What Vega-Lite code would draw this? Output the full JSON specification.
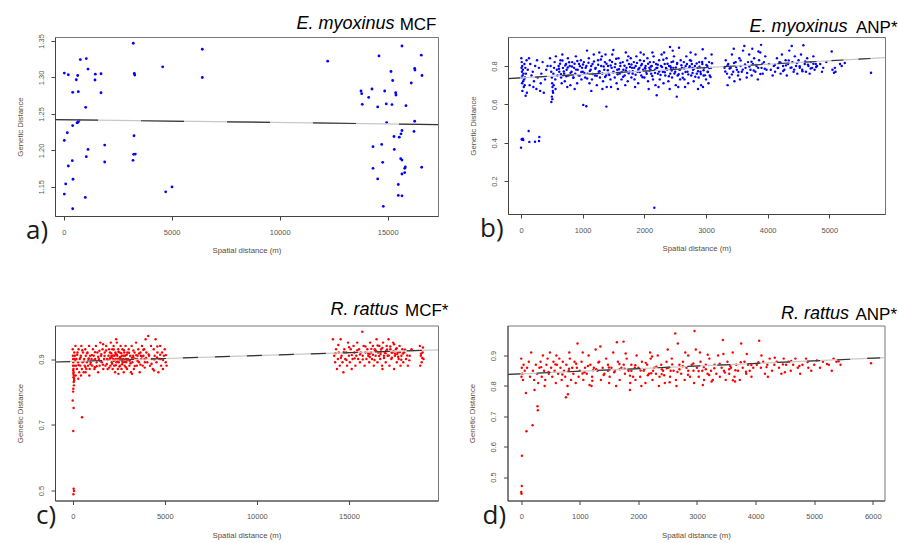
{
"$schema": "https://vega.github.io/schema/vega-lite/v6.json",
"background": "white",
"padding": {"left": 15, "top": 14, "right": 0, "bottom": 0},
"config": {
 "view": {"stroke": "#777", "strokeWidth": 1},
 "axis": {"labelFont": "Liberation Sans", "labelFontSize": 7.5, "labelColor": "#555", "titleFont": "Liberation Sans", "titleFontSize": 7.8, "titleFontWeight": "normal", "titleColor": "#5b4c40", "tickColor": "#444", "tickSize": 4, "domainColor": "#444", "grid": false, "labelFlush": false, "labelOverlap": false, "labelBound": false},
 "axisX": {"labelPadding": 8, "titlePadding": 11},
 "axisY": {"labelAngle": 270, "labelPadding": 6, "titlePadding": 13},
 "title": {"font": "Liberation Sans", "fontSize": 17, "fontWeight": "normal", "color": "#000", "baseline": "top", "anchor": "end", "frame": "bounds"}
},
"datasets": {
 "a": [{"x":3222,"y":1.3468},{"x":6417,"y":1.3386},{"x":769,"y":1.3245},{"x":1046,"y":1.3258},{"x":4583,"y":1.3145},{"x":1125,"y":1.3114},{"x":28,"y":1.3059},{"x":213,"y":1.3036},{"x":648,"y":1.3026},{"x":1463,"y":1.3045},{"x":1727,"y":1.305},{"x":3269,"y":1.3054},{"x":3290,"y":1.3032},{"x":583,"y":1.2968},{"x":1449,"y":1.2964},{"x":6417,"y":1.2999},{"x":417,"y":1.2795},{"x":676,"y":1.2804},{"x":1727,"y":1.279},{"x":1019,"y":1.259},{"x":708,"y":1.2409},{"x":662,"y":1.2385},{"x":616,"y":1.2377},{"x":417,"y":1.234},{"x":167,"y":1.2241},{"x":3255,"y":1.22},{"x":28,"y":1.2136},{"x":1898,"y":1.2072},{"x":1125,"y":1.2013},{"x":3241,"y":1.1945},{"x":3315,"y":1.1949},{"x":1046,"y":1.1914},{"x":398,"y":1.1859},{"x":3208,"y":1.1863},{"x":1898,"y":1.184},{"x":213,"y":1.1785},{"x":431,"y":1.1604},{"x":93,"y":1.154},{"x":5014,"y":1.1499},{"x":4722,"y":1.1431},{"x":28,"y":1.14},{"x":1000,"y":1.1355},{"x":417,"y":1.1199},{"x":15662,"y":1.3431},{"x":16556,"y":1.3305},{"x":14597,"y":1.3295},{"x":12222,"y":1.3223},{"x":16250,"y":1.3122},{"x":16264,"y":1.31},{"x":15153,"y":1.3081},{"x":16588,"y":1.3026},{"x":15232,"y":1.2958},{"x":16093,"y":1.2923},{"x":14273,"y":1.2841},{"x":14861,"y":1.2814},{"x":13764,"y":1.2814},{"x":13796,"y":1.2777},{"x":15370,"y":1.279},{"x":15384,"y":1.2759},{"x":14120,"y":1.2726},{"x":13824,"y":1.2631},{"x":14935,"y":1.2636},{"x":15199,"y":1.2627},{"x":15847,"y":1.2613},{"x":14537,"y":1.2595},{"x":14954,"y":1.2381},{"x":16250,"y":1.2399},{"x":15662,"y":1.2272},{"x":16218,"y":1.2259},{"x":15616,"y":1.2227},{"x":15292,"y":1.219},{"x":15537,"y":1.2181},{"x":14320,"y":1.205},{"x":14722,"y":1.2081},{"x":15306,"y":1.2013},{"x":15602,"y":1.1886},{"x":15662,"y":1.1867},{"x":14769,"y":1.1836},{"x":14320,"y":1.1754},{"x":15816,"y":1.1772},{"x":15788,"y":1.1754},{"x":16574,"y":1.1768},{"x":15788,"y":1.1695},{"x":15662,"y":1.1676},{"x":14537,"y":1.1608},{"x":15492,"y":1.1532},{"x":15492,"y":1.1382},{"x":15662,"y":1.1376},{"x":14797,"y":1.1232}],
 "b": [{"x":5,"y":0.84},{"x":12,"y":0.82},{"x":20,"y":0.8},{"x":8,"y":0.79},{"x":30,"y":0.78},{"x":15,"y":0.77},{"x":40,"y":0.76},{"x":25,"y":0.75},{"x":10,"y":0.74},{"x":50,"y":0.73},{"x":35,"y":0.72},{"x":18,"y":0.71},{"x":60,"y":0.7},{"x":45,"y":0.69},{"x":22,"y":0.67},{"x":55,"y":0.81},{"x":70,"y":0.79},{"x":80,"y":0.76},{"x":90,"y":0.83},{"x":65,"y":0.74},{"x":95,"y":0.66},{"x":75,"y":0.645},
  {"x":0,"y":0.374},{"x":11,"y":0.418},{"x":20,"y":0.415},{"x":37,"y":0.414},{"x":28,"y":0.42},{"x":124,"y":0.461},{"x":135,"y":0.404},{"x":227,"y":0.405},{"x":292,"y":0.409},{"x":297,"y":0.43},
  {"x":110,"y":0.78},{"x":130,"y":0.84},{"x":150,"y":0.81},{"x":170,"y":0.75},{"x":190,"y":0.77},{"x":210,"y":0.72},{"x":230,"y":0.8},{"x":250,"y":0.68},{"x":270,"y":0.74},{"x":290,"y":0.79},{"x":310,"y":0.67},{"x":330,"y":0.76},{"x":350,"y":0.82},{"x":370,"y":0.66},{"x":390,"y":0.73},{"x":410,"y":0.78},{"x":430,"y":0.8},{"x":140,"y":0.7},{"x":260,"y":0.83},{"x":200,"y":0.69},{"x":320,"y":0.71},
  {"x":470,"y":0.84},{"x":480,"y":0.8},{"x":490,"y":0.77},{"x":500,"y":0.74},{"x":505,"y":0.71},{"x":510,"y":0.69},{"x":515,"y":0.67},{"x":520,"y":0.66},{"x":500,"y":0.64},{"x":508,"y":0.627},{"x":492,"y":0.612},{"x":525,"y":0.76},{"x":535,"y":0.79},{"x":545,"y":0.82},{"x":555,"y":0.73},{"x":565,"y":0.85},{"x":580,"y":0.78},{"x":590,"y":0.75},{"x":530,"y":0.7},{"x":560,"y":0.68},
  {"x":610,"y":0.8},{"x":620,"y":0.77},{"x":640,"y":0.83},{"x":650,"y":0.74},{"x":670,"y":0.86},{"x":680,"y":0.79},{"x":700,"y":0.76},{"x":710,"y":0.72},{"x":730,"y":0.81},{"x":740,"y":0.78},{"x":760,"y":0.84},{"x":770,"y":0.75},{"x":790,"y":0.8},{"x":800,"y":0.7},{"x":820,"y":0.77},{"x":830,"y":0.82},{"x":850,"y":0.74},{"x":860,"y":0.79},{"x":880,"y":0.76},{"x":890,"y":0.85},{"x":910,"y":0.71},{"x":920,"y":0.78},{"x":940,"y":0.81},{"x":950,"y":0.75},{"x":970,"y":0.83},{"x":980,"y":0.73},{"x":990,"y":0.79},{"x":660,"y":0.71},{"x":750,"y":0.69},{"x":870,"y":0.68},
  {"x":1010,"y":0.597},{"x":1059,"y":0.59},{"x":1384,"y":0.588},{"x":1000,"y":0.77},{"x":1020,"y":0.82},{"x":1040,"y":0.74},{"x":1060,"y":0.8},{"x":1080,"y":0.76},{"x":1100,"y":0.84},{"x":1110,"y":0.71},{"x":1130,"y":0.78},{"x":1150,"y":0.73},{"x":1160,"y":0.81},{"x":1180,"y":0.86},{"x":1200,"y":0.75},{"x":1210,"y":0.79},{"x":1230,"y":0.7},{"x":1250,"y":0.83},{"x":1260,"y":0.77},{"x":1280,"y":0.74},{"x":1300,"y":0.8},{"x":1310,"y":0.85},{"x":1330,"y":0.72},{"x":1350,"y":0.78},{"x":1360,"y":0.82},{"x":1380,"y":0.75},{"x":1390,"y":0.69},{"x":1070,"y":0.88},{"x":1140,"y":0.67},{"x":1270,"y":0.87},{"x":1320,"y":0.68},{"x":1370,"y":0.86},
  {"x":1410,"y":0.8},{"x":1420,"y":0.76},{"x":1440,"y":0.83},{"x":1450,"y":0.73},{"x":1470,"y":0.79},{"x":1480,"y":0.86},{"x":1497,"y":0.883},{"x":1500,"y":0.77},{"x":1520,"y":0.74},{"x":1530,"y":0.81},{"x":1550,"y":0.71},{"x":1560,"y":0.78},{"x":1580,"y":0.84},{"x":1600,"y":0.76},{"x":1610,"y":0.8},{"x":1630,"y":0.73},{"x":1650,"y":0.82},{"x":1660,"y":0.78},{"x":1680,"y":0.75},{"x":1700,"y":0.87},{"x":1710,"y":0.79},{"x":1730,"y":0.72},{"x":1750,"y":0.81},{"x":1760,"y":0.77},{"x":1780,"y":0.84},{"x":1790,"y":0.74},{"x":1460,"y":0.69},{"x":1570,"y":0.68},{"x":1690,"y":0.7},{"x":1740,"y":0.85},
  {"x":1800,"y":0.79},{"x":1810,"y":0.76},{"x":1830,"y":0.82},{"x":1840,"y":0.73},{"x":1860,"y":0.8},{"x":1870,"y":0.85},{"x":1890,"y":0.77},{"x":1900,"y":0.71},{"x":1920,"y":0.79},{"x":1930,"y":0.83},{"x":1950,"y":0.75},{"x":1960,"y":0.81},{"x":1980,"y":0.78},{"x":1990,"y":0.86},{"x":2000,"y":0.74},{"x":2020,"y":0.8},{"x":2030,"y":0.77},{"x":2050,"y":0.84},{"x":2060,"y":0.72},{"x":2080,"y":0.79},{"x":2090,"y":0.82},{"x":2110,"y":0.76},{"x":2120,"y":0.8},{"x":2140,"y":0.73},{"x":2150,"y":0.85},{"x":2170,"y":0.78},{"x":2180,"y":0.7},{"x":2190,"y":0.81},{"x":2162,"y":0.061},{"x":2200,"y":0.647},{"x":1850,"y":0.69},{"x":1940,"y":0.87},{"x":2070,"y":0.68},{"x":2130,"y":0.87},{"x":2010,"y":0.79},{"x":2100,"y":0.78},
  {"x":2210,"y":0.79},{"x":2220,"y":0.76},{"x":2240,"y":0.83},{"x":2250,"y":0.73},{"x":2270,"y":0.8},{"x":2280,"y":0.86},{"x":2300,"y":0.77},{"x":2310,"y":0.71},{"x":2330,"y":0.81},{"x":2340,"y":0.75},{"x":2360,"y":0.84},{"x":2370,"y":0.78},{"x":2390,"y":0.72},{"x":2400,"y":0.8},{"x":2416,"y":0.899},{"x":2420,"y":0.76},{"x":2440,"y":0.82},{"x":2450,"y":0.74},{"x":2470,"y":0.79},{"x":2480,"y":0.85},{"x":2500,"y":0.77},{"x":2510,"y":0.7},{"x":2525,"y":0.64},{"x":2530,"y":0.81},{"x":2540,"y":0.75},{"x":2562,"y":0.895},{"x":2570,"y":0.78},{"x":2580,"y":0.73},{"x":2590,"y":0.83},{"x":2230,"y":0.69},{"x":2320,"y":0.87},{"x":2410,"y":0.68},{"x":2460,"y":0.88},{"x":2550,"y":0.69},{"x":2350,"y":0.79},{"x":2430,"y":0.79},
  {"x":2610,"y":0.79},{"x":2620,"y":0.76},{"x":2640,"y":0.82},{"x":2650,"y":0.73},{"x":2670,"y":0.8},{"x":2680,"y":0.85},{"x":2700,"y":0.77},{"x":2710,"y":0.71},{"x":2730,"y":0.79},{"x":2740,"y":0.83},{"x":2760,"y":0.75},{"x":2770,"y":0.81},{"x":2790,"y":0.78},{"x":2800,"y":0.72},{"x":2820,"y":0.8},{"x":2830,"y":0.86},{"x":2850,"y":0.76},{"x":2860,"y":0.79},{"x":2880,"y":0.74},{"x":2890,"y":0.82},{"x":2910,"y":0.77},{"x":2920,"y":0.7},{"x":2940,"y":0.81},{"x":2946,"y":0.887},{"x":2960,"y":0.75},{"x":2970,"y":0.79},{"x":2990,"y":0.84},{"x":3000,"y":0.73},{"x":3020,"y":0.8},{"x":3030,"y":0.77},{"x":3050,"y":0.82},{"x":3060,"y":0.75},{"x":3080,"y":0.79},{"x":3090,"y":0.86},{"x":2660,"y":0.69},{"x":2750,"y":0.87},{"x":2870,"y":0.68},{"x":2950,"y":0.69},{"x":3040,"y":0.71},{"x":2780,"y":0.79},
  {"x":3300,"y":0.79},{"x":3320,"y":0.83},{"x":3340,"y":0.76},{"x":3360,"y":0.81},{"x":3380,"y":0.74},{"x":3400,"y":0.79},{"x":3420,"y":0.86},{"x":3440,"y":0.77},{"x":3460,"y":0.72},{"x":3480,"y":0.82},{"x":3500,"y":0.78},{"x":3520,"y":0.75},{"x":3540,"y":0.84},{"x":3560,"y":0.8},{"x":3580,"y":0.77},{"x":3600,"y":0.88},{"x":3621,"y":0.904},{"x":3640,"y":0.79},{"x":3660,"y":0.74},{"x":3680,"y":0.82},{"x":3700,"y":0.86},{"x":3720,"y":0.78},{"x":3740,"y":0.75},{"x":3760,"y":0.81},{"x":3780,"y":0.84},{"x":3800,"y":0.77},{"x":3820,"y":0.8},{"x":3840,"y":0.73},{"x":3860,"y":0.83},{"x":3880,"y":0.87},{"x":3892,"y":0.91},{"x":3900,"y":0.79},{"x":3920,"y":0.76},{"x":3940,"y":0.82},{"x":3960,"y":0.85},{"x":3980,"y":0.78},{"x":3350,"y":0.7},{"x":3450,"y":0.89},{"x":3550,"y":0.73},{"x":3750,"y":0.89},{"x":3850,"y":0.875},
  {"x":4100,"y":0.8},{"x":4120,"y":0.77},{"x":4150,"y":0.84},{"x":4170,"y":0.79},{"x":4190,"y":0.82},{"x":4210,"y":0.76},{"x":4230,"y":0.86},{"x":4250,"y":0.8},{"x":4270,"y":0.78},{"x":4290,"y":0.83},{"x":4310,"y":0.75},{"x":4330,"y":0.81},{"x":4350,"y":0.88},{"x":4370,"y":0.79},{"x":4390,"y":0.904},{"x":4400,"y":0.82},{"x":4420,"y":0.77},{"x":4440,"y":0.85},{"x":4460,"y":0.8},{"x":4480,"y":0.76},{"x":4500,"y":0.83},{"x":4520,"y":0.79},{"x":4540,"y":0.86},{"x":4560,"y":0.78},{"x":4578,"y":0.908},{"x":4600,"y":0.81},{"x":4620,"y":0.77},{"x":4640,"y":0.84},{"x":4660,"y":0.8},{"x":4680,"y":0.76},{"x":4700,"y":0.82},{"x":4720,"y":0.79},{"x":4740,"y":0.85},{"x":4760,"y":0.78},{"x":4780,"y":0.81},{"x":4800,"y":0.8},{"x":4020,"y":0.81},{"x":4050,"y":0.78},{"x":4080,"y":0.75},
  {"x":4850,"y":0.81},{"x":4900,"y":0.79},{"x":4950,"y":0.82},{"x":5038,"y":0.875},{"x":5050,"y":0.78},{"x":5075,"y":0.765},{"x":5100,"y":0.77},{"x":5173,"y":0.81},{"x":5200,"y":0.8},{"x":5250,"y":0.815},{"x":5675,"y":0.765},{"x":5090,"y":0.79},{"x":4880,"y":0.77},
  {"x":615,"y":0.785},{"x":633,"y":0.812},{"x":648,"y":0.757},{"x":672,"y":0.828},{"x":694,"y":0.771},{"x":717,"y":0.803},{"x":736,"y":0.746},{"x":758,"y":0.792},{"x":781,"y":0.819},{"x":803,"y":0.764},{"x":826,"y":0.797},{"x":847,"y":0.739},{"x":868,"y":0.812},{"x":892,"y":0.781},{"x":913,"y":0.826},{"x":935,"y":0.752},{"x":957,"y":0.799},{"x":978,"y":0.769},
  {"x":1005,"y":0.808},{"x":1027,"y":0.763},{"x":1049,"y":0.791},{"x":1072,"y":0.735},{"x":1094,"y":0.817},{"x":1116,"y":0.774},{"x":1138,"y":0.8},{"x":1161,"y":0.758},{"x":1183,"y":0.823},{"x":1205,"y":0.785},{"x":1228,"y":0.749},{"x":1251,"y":0.806},{"x":1273,"y":0.772},{"x":1296,"y":0.834},{"x":1318,"y":0.761},{"x":1341,"y":0.797},{"x":1363,"y":0.742},{"x":1386,"y":0.811},
  {"x":1408,"y":0.778},{"x":1431,"y":0.753},{"x":1453,"y":0.802},{"x":1476,"y":0.821},{"x":1498,"y":0.766},{"x":1521,"y":0.794},{"x":1543,"y":0.838},{"x":1566,"y":0.757},{"x":1588,"y":0.783},{"x":1611,"y":0.815},{"x":1633,"y":0.769},{"x":1656,"y":0.744},{"x":1678,"y":0.801},{"x":1701,"y":0.776},{"x":1723,"y":0.829},{"x":1746,"y":0.762},{"x":1768,"y":0.795},{"x":1791,"y":0.808},
  {"x":1813,"y":0.772},{"x":1836,"y":0.791},{"x":1858,"y":0.754},{"x":1881,"y":0.816},{"x":1903,"y":0.783},{"x":1926,"y":0.768},{"x":1948,"y":0.803},{"x":1971,"y":0.741},{"x":1993,"y":0.826},{"x":2016,"y":0.787},{"x":2038,"y":0.759},{"x":2061,"y":0.811},{"x":2083,"y":0.775},{"x":2106,"y":0.797},{"x":2128,"y":0.748},{"x":2151,"y":0.82},{"x":2173,"y":0.764},{"x":2196,"y":0.789},
  {"x":2218,"y":0.806},{"x":2241,"y":0.771},{"x":2263,"y":0.753},{"x":2286,"y":0.795},{"x":2308,"y":0.832},{"x":2331,"y":0.767},{"x":2353,"y":0.784},{"x":2376,"y":0.812},{"x":2398,"y":0.746},{"x":2421,"y":0.799},{"x":2443,"y":0.776},{"x":2466,"y":0.823},{"x":2488,"y":0.761},{"x":2511,"y":0.792},{"x":2533,"y":0.815},{"x":2556,"y":0.757},{"x":2578,"y":0.781},{"x":2601,"y":0.804},
  {"x":2623,"y":0.738},{"x":2646,"y":0.787},{"x":2668,"y":0.769},{"x":2691,"y":0.81},{"x":2713,"y":0.756},{"x":2736,"y":0.798},{"x":2758,"y":0.827},{"x":2781,"y":0.763},{"x":2803,"y":0.785},{"x":2826,"y":0.744},{"x":2848,"y":0.813},{"x":2871,"y":0.772},{"x":2893,"y":0.796},{"x":2916,"y":0.758},{"x":2938,"y":0.821},{"x":2961,"y":0.778},{"x":2983,"y":0.751},{"x":3006,"y":0.805},{"x":3028,"y":0.768},{"x":3051,"y":0.789},{"x":3073,"y":0.742},{"x":3096,"y":0.814},
  {"x":3312,"y":0.771},{"x":3347,"y":0.802},{"x":3383,"y":0.787},{"x":3418,"y":0.756},{"x":3454,"y":0.815},{"x":3489,"y":0.794},{"x":3525,"y":0.769},{"x":3561,"y":0.828},{"x":3596,"y":0.781},{"x":3632,"y":0.808},{"x":3667,"y":0.763},{"x":3703,"y":0.797},{"x":3738,"y":0.822},{"x":3774,"y":0.776},{"x":3809,"y":0.805},{"x":3845,"y":0.79},{"x":3881,"y":0.758},{"x":3916,"y":0.812},{"x":3952,"y":0.786},
  {"x":4118,"y":0.806},{"x":4163,"y":0.789},{"x":4207,"y":0.817},{"x":4252,"y":0.774},{"x":4296,"y":0.803},{"x":4341,"y":0.829},{"x":4385,"y":0.792},{"x":4430,"y":0.781},{"x":4474,"y":0.815},{"x":4519,"y":0.798},{"x":4563,"y":0.772},{"x":4608,"y":0.824},{"x":4652,"y":0.807},{"x":4697,"y":0.787},{"x":4741,"y":0.811},{"x":4786,"y":0.795}],
 "c": [{"x":0,"y":0.93},{"x":10,"y":0.91},{"x":20,"y":0.9},{"x":30,"y":0.89},{"x":15,"y":0.88},{"x":40,"y":0.87},{"x":25,"y":0.865},{"x":50,"y":0.86},{"x":35,"y":0.855},{"x":60,"y":0.85},{"x":45,"y":0.845},{"x":70,"y":0.84},{"x":80,"y":0.835},{"x":55,"y":0.83},{"x":65,"y":0.82},{"x":30,"y":0.81},{"x":20,"y":0.801},{"x":0,"y":0.774},{"x":50,"y":0.751},{"x":507,"y":0.723},{"x":30,"y":0.681},{"x":50,"y":0.506},{"x":70,"y":0.499},{"x":40,"y":0.489},{"x":90,"y":0.88},{"x":85,"y":0.92},{"x":100,"y":0.9},
  {"x":120,"y":0.91},{"x":150,"y":0.94},{"x":180,"y":0.88},{"x":200,"y":0.9},{"x":230,"y":0.87},{"x":260,"y":0.92},{"x":290,"y":0.89},{"x":320,"y":0.93},{"x":350,"y":0.86},{"x":380,"y":0.9},{"x":410,"y":0.88},{"x":440,"y":0.91},{"x":470,"y":0.94},{"x":500,"y":0.87},{"x":530,"y":0.89},{"x":560,"y":0.92},{"x":590,"y":0.86},{"x":620,"y":0.9},{"x":650,"y":0.88},{"x":680,"y":0.93},{"x":710,"y":0.91},{"x":740,"y":0.87},{"x":770,"y":0.89},{"x":800,"y":0.92},{"x":830,"y":0.88},{"x":860,"y":0.9},{"x":890,"y":0.94},{"x":920,"y":0.87},{"x":950,"y":0.91},{"x":980,"y":0.89},{"x":160,"y":0.85},{"x":300,"y":0.84},{"x":450,"y":0.85},{"x":700,"y":0.86},{"x":900,"y":0.85},
  {"x":1020,"y":0.9},{"x":1060,"y":0.88},{"x":1100,"y":0.93},{"x":1140,"y":0.91},{"x":1180,"y":0.87},{"x":1220,"y":0.9},{"x":1260,"y":0.94},{"x":1300,"y":0.89},{"x":1340,"y":0.92},{"x":1380,"y":0.86},{"x":1420,"y":0.9},{"x":1460,"y":0.88},{"x":1500,"y":0.95},{"x":1540,"y":0.91},{"x":1580,"y":0.89},{"x":1620,"y":0.93},{"x":1660,"y":0.87},{"x":1700,"y":0.9},{"x":1740,"y":0.92},{"x":1780,"y":0.88},{"x":1820,"y":0.94},{"x":1860,"y":0.9},{"x":1900,"y":0.87},{"x":1940,"y":0.91},{"x":1980,"y":0.93},{"x":1200,"y":0.875},{"x":1450,"y":0.925},{"x":1650,"y":0.945},{"x":1850,"y":0.885},
  {"x":2000,"y":0.9},{"x":2020,"y":0.92},{"x":2050,"y":0.88},{"x":2070,"y":0.95},{"x":2100,"y":0.91},{"x":2120,"y":0.89},{"x":2150,"y":0.93},{"x":2170,"y":0.87},{"x":2200,"y":0.9},{"x":2220,"y":0.94},{"x":2250,"y":0.88},{"x":2270,"y":0.91},{"x":2300,"y":0.86},{"x":2320,"y":0.92},{"x":2350,"y":0.9},{"x":2370,"y":0.89},{"x":2400,"y":0.95},{"x":2420,"y":0.91},{"x":2450,"y":0.87},{"x":2470,"y":0.93},{"x":2500,"y":0.89},{"x":2520,"y":0.9},{"x":2550,"y":0.92},{"x":2570,"y":0.88},{"x":2600,"y":0.94},{"x":2620,"y":0.9},{"x":2650,"y":0.87},{"x":2670,"y":0.91},{"x":2700,"y":0.93},{"x":2720,"y":0.89},{"x":2750,"y":0.9},{"x":2770,"y":0.86},{"x":2800,"y":0.92},{"x":2820,"y":0.88},{"x":2850,"y":0.91},{"x":2870,"y":0.94},{"x":2900,"y":0.89},{"x":2920,"y":0.9},{"x":2950,"y":0.87},{"x":2970,"y":0.92},{"x":2110,"y":0.905},{"x":2230,"y":0.895},{"x":2330,"y":0.915},{"x":2440,"y":0.9},{"x":2560,"y":0.905},{"x":2680,"y":0.895},{"x":2780,"y":0.91},{"x":2880,"y":0.9},{"x":2360,"y":0.96},{"x":2480,"y":0.855},
  {"x":3000,"y":0.9},{"x":3040,"y":0.93},{"x":3080,"y":0.88},{"x":3120,"y":0.91},{"x":3160,"y":0.86},{"x":3200,"y":0.94},{"x":3240,"y":0.89},{"x":3280,"y":0.91},{"x":3320,"y":0.87},{"x":3360,"y":0.92},{"x":3400,"y":0.9},{"x":3440,"y":0.95},{"x":3480,"y":0.88},{"x":3520,"y":0.91},{"x":3560,"y":0.93},{"x":3600,"y":0.89},{"x":3640,"y":0.86},{"x":3680,"y":0.92},{"x":3720,"y":0.9},{"x":3760,"y":0.94},{"x":3800,"y":0.88},{"x":3840,"y":0.91},{"x":3880,"y":0.93},{"x":3920,"y":0.89},{"x":3960,"y":0.96},{"x":3100,"y":0.895},{"x":3300,"y":0.905},{"x":3500,"y":0.9},{"x":3700,"y":0.91},{"x":3900,"y":0.9},{"x":3220,"y":0.855},
  {"x":4000,"y":0.92},{"x":4050,"y":0.89},{"x":4100,"y":0.97},{"x":4150,"y":0.91},{"x":4200,"y":0.88},{"x":4250,"y":0.94},{"x":4300,"y":0.9},{"x":4350,"y":0.87},{"x":4400,"y":0.93},{"x":4450,"y":0.91},{"x":4500,"y":0.96},{"x":4550,"y":0.89},{"x":4600,"y":0.92},{"x":4650,"y":0.86},{"x":4700,"y":0.9},{"x":4750,"y":0.94},{"x":4800,"y":0.88},{"x":4850,"y":0.92},{"x":4900,"y":0.87},{"x":4950,"y":0.91},{"x":5000,"y":0.93},{"x":5050,"y":0.89},{"x":4420,"y":0.865},{"x":4580,"y":0.905},{"x":4780,"y":0.9},{"x":5100,"y":0.88},
  {"x":137,"y":0.897},{"x":243,"y":0.913},{"x":318,"y":0.882},{"x":426,"y":0.905},{"x":517,"y":0.927},{"x":603,"y":0.893},{"x":689,"y":0.876},{"x":781,"y":0.918},{"x":872,"y":0.902},{"x":964,"y":0.884},{"x":1043,"y":0.912},{"x":1127,"y":0.896},{"x":1213,"y":0.921},{"x":1298,"y":0.878},{"x":1384,"y":0.907},{"x":1469,"y":0.894},{"x":1556,"y":0.915},{"x":1641,"y":0.883},{"x":1727,"y":0.909},{"x":1812,"y":0.926},{"x":1898,"y":0.897},{"x":1983,"y":0.874},{"x":2038,"y":0.903},{"x":2087,"y":0.918},{"x":2136,"y":0.886},{"x":2184,"y":0.911},{"x":2233,"y":0.929},{"x":2281,"y":0.898},{"x":2338,"y":0.881},{"x":2386,"y":0.914},{"x":2435,"y":0.893},{"x":2483,"y":0.922},{"x":2532,"y":0.877},{"x":2588,"y":0.906},{"x":2637,"y":0.918},{"x":2685,"y":0.884},{"x":2734,"y":0.899},{"x":2782,"y":0.927},{"x":2839,"y":0.892},{"x":2887,"y":0.875},{"x":2936,"y":0.913},{"x":2984,"y":0.896},{"x":3058,"y":0.919},{"x":3137,"y":0.887},{"x":3213,"y":0.904},{"x":3291,"y":0.926},{"x":3368,"y":0.879},{"x":3446,"y":0.912},{"x":3523,"y":0.894},{"x":3601,"y":0.917},{"x":3678,"y":0.883},{"x":3756,"y":0.908},{"x":3833,"y":0.928},{"x":3911,"y":0.874},{"x":3988,"y":0.903},{"x":4127,"y":0.914},{"x":4283,"y":0.886},{"x":4438,"y":0.899},{"x":4594,"y":0.938},{"x":4749,"y":0.913},{"x":4905,"y":0.897},{"x":5063,"y":0.912},
  {"x":14130,"y":0.96},{"x":14200,"y":0.91},{"x":14250,"y":0.89},{"x":14300,"y":0.93},{"x":14350,"y":0.87},{"x":14400,"y":0.9},{"x":14450,"y":0.92},{"x":14500,"y":0.88},{"x":14550,"y":0.96},{"x":14600,"y":0.91},{"x":14650,"y":0.89},{"x":14700,"y":0.86},{"x":14750,"y":0.93},{"x":14800,"y":0.9},{"x":14850,"y":0.92},{"x":14900,"y":0.88},{"x":14950,"y":0.95},{"x":15000,"y":0.91},{"x":15050,"y":0.89},{"x":15100,"y":0.93},{"x":15150,"y":0.87},{"x":15200,"y":0.9},{"x":15250,"y":0.94},{"x":15300,"y":0.92},{"x":15350,"y":0.88},{"x":15400,"y":0.91},{"x":15450,"y":0.95},{"x":15500,"y":0.9},{"x":15550,"y":0.93},{"x":15600,"y":0.89},{"x":15650,"y":0.92},{"x":15723,"y":0.983},{"x":15750,"y":0.91},{"x":15800,"y":0.94},{"x":15850,"y":0.88},{"x":15900,"y":0.92},{"x":15950,"y":0.9},{"x":16000,"y":0.93},{"x":16050,"y":0.91},{"x":16100,"y":0.89},{"x":16150,"y":0.95},{"x":16200,"y":0.92},{"x":16250,"y":0.9},{"x":16300,"y":0.94},{"x":16350,"y":0.88},{"x":16400,"y":0.93},{"x":16450,"y":0.91},{"x":16500,"y":0.96},{"x":16550,"y":0.89},{"x":16600,"y":0.92},{"x":16650,"y":0.94},{"x":16700,"y":0.9},{"x":16750,"y":0.93},{"x":16800,"y":0.88},{"x":16850,"y":0.95},{"x":16900,"y":0.91},{"x":16950,"y":0.92},{"x":17000,"y":0.89},{"x":17050,"y":0.94},{"x":17100,"y":0.91},{"x":17150,"y":0.96},{"x":17200,"y":0.88},{"x":17250,"y":0.93},{"x":17300,"y":0.9},{"x":17350,"y":0.92},{"x":17400,"y":0.95},{"x":17450,"y":0.87},{"x":17500,"y":0.91},{"x":17550,"y":0.93},{"x":17600,"y":0.89},{"x":17650,"y":0.92},{"x":17700,"y":0.9},{"x":17750,"y":0.94},{"x":17800,"y":0.88},{"x":17850,"y":0.91},{"x":17900,"y":0.93},{"x":17950,"y":0.89},{"x":18000,"y":0.92},{"x":18100,"y":0.9},{"x":18200,"y":0.88},{"x":18300,"y":0.91},{"x":18400,"y":0.93},{"x":18850,"y":0.94},{"x":18900,"y":0.91},{"x":18950,"y":0.89},{"x":19000,"y":0.92},{"x":19050,"y":0.9},{"x":18870,"y":0.88},{"x":19020,"y":0.935},{"x":16120,"y":0.915},{"x":16420,"y":0.925},{"x":16720,"y":0.915},{"x":17020,"y":0.925},{"x":17320,"y":0.92},{"x":17620,"y":0.915},{"x":16820,"y":0.87},{"x":17450,"y":0.945},
  {"x":14273,"y":0.918},{"x":14421,"y":0.943},{"x":14567,"y":0.904},{"x":14716,"y":0.921},{"x":14863,"y":0.897},{"x":15012,"y":0.936},{"x":15158,"y":0.912},{"x":15307,"y":0.902},{"x":15455,"y":0.927},{"x":15603,"y":0.914},{"x":15752,"y":0.899},{"x":15898,"y":0.938},{"x":16046,"y":0.917},{"x":16131,"y":0.906},{"x":16217,"y":0.931},{"x":16302,"y":0.913},{"x":16388,"y":0.897},{"x":16473,"y":0.925},{"x":16559,"y":0.941},{"x":16644,"y":0.909},{"x":16731,"y":0.922},{"x":16817,"y":0.934},{"x":16902,"y":0.903},{"x":16988,"y":0.918},{"x":17073,"y":0.929},{"x":17159,"y":0.911},{"x":17244,"y":0.938},{"x":17331,"y":0.904},{"x":17417,"y":0.924},{"x":17502,"y":0.916},{"x":17588,"y":0.933},{"x":17673,"y":0.907},{"x":17759,"y":0.921},{"x":17844,"y":0.898},{"x":17931,"y":0.917},{"x":18052,"y":0.928},{"x":18163,"y":0.911},{"x":18276,"y":0.896},{"x":18912,"y":0.916},{"x":18983,"y":0.903}],
 "d": [{"x":0,"y":0.89},{"x":10,"y":0.86},{"x":20,"y":0.84},{"x":30,"y":0.82},{"x":5,"y":0.83},{"x":40,"y":0.87},{"x":60,"y":0.85},{"x":80,"y":0.777},{"x":90,"y":0.651},{"x":193,"y":0.671},{"x":278,"y":0.733},{"x":284,"y":0.72},{"x":12,"y":0.57},{"x":10,"y":0.471},{"x":0,"y":0.451},{"x":5,"y":0.445},{"x":227,"y":0.787},{"x":100,"y":0.86},{"x":130,"y":0.88},{"x":150,"y":0.83},{"x":170,"y":0.91},{"x":200,"y":0.85},{"x":220,"y":0.82},{"x":250,"y":0.87},{"x":270,"y":0.84},{"x":290,"y":0.81},
  {"x":310,"y":0.86},{"x":330,"y":0.88},{"x":350,"y":0.83},{"x":370,"y":0.9},{"x":390,"y":0.85},{"x":410,"y":0.82},{"x":430,"y":0.87},{"x":450,"y":0.89},{"x":470,"y":0.84},{"x":490,"y":0.91},{"x":510,"y":0.86},{"x":530,"y":0.83},{"x":550,"y":0.88},{"x":570,"y":0.85},{"x":590,"y":0.81},{"x":610,"y":0.87},{"x":630,"y":0.84},{"x":650,"y":0.89},{"x":670,"y":0.86},{"x":690,"y":0.82},{"x":710,"y":0.88},{"x":730,"y":0.85},{"x":763,"y":0.763},{"x":797,"y":0.773},{"x":750,"y":0.83},{"x":770,"y":0.87},{"x":790,"y":0.8},{"x":810,"y":0.85},{"x":830,"y":0.89},{"x":850,"y":0.82},{"x":870,"y":0.86},{"x":890,"y":0.84},{"x":910,"y":0.88},{"x":930,"y":0.81},{"x":950,"y":0.86},{"x":961,"y":0.94},{"x":980,"y":0.83},{"x":400,"y":0.8},{"x":600,"y":0.9},{"x":820,"y":0.91},
  {"x":1000,"y":0.85},{"x":1030,"y":0.88},{"x":1060,"y":0.82},{"x":1090,"y":0.86},{"x":1120,"y":0.84},{"x":1150,"y":0.9},{"x":1166,"y":0.803},{"x":1180,"y":0.87},{"x":1210,"y":0.83},{"x":1240,"y":0.86},{"x":1270,"y":0.92},{"x":1300,"y":0.85},{"x":1330,"y":0.88},{"x":1360,"y":0.82},{"x":1390,"y":0.86},{"x":1420,"y":0.84},{"x":1450,"y":0.89},{"x":1480,"y":0.87},{"x":1510,"y":0.83},{"x":1540,"y":0.86},{"x":1570,"y":0.91},{"x":1600,"y":0.85},{"x":1633,"y":0.944},{"x":1650,"y":0.88},{"x":1680,"y":0.82},{"x":1710,"y":0.86},{"x":1746,"y":0.946},{"x":1770,"y":0.84},{"x":1800,"y":0.89},{"x":1830,"y":0.85},{"x":1855,"y":0.787},{"x":1880,"y":0.87},{"x":1910,"y":0.83},{"x":1940,"y":0.86},{"x":1970,"y":0.9},{"x":1050,"y":0.91},{"x":1200,"y":0.8},{"x":1350,"y":0.93},{"x":1500,"y":0.81},{"x":1620,"y":0.8},{"x":1750,"y":0.87},{"x":1860,"y":0.81},{"x":1950,"y":0.82},{"x":1080,"y":0.845},{"x":1280,"y":0.855},{"x":1480,"y":0.85},{"x":1680,"y":0.855},{"x":1880,"y":0.85},
  {"x":2000,"y":0.86},{"x":2030,"y":0.83},{"x":2060,"y":0.88},{"x":2090,"y":0.85},{"x":2120,"y":0.81},{"x":2150,"y":0.87},{"x":2180,"y":0.84},{"x":2210,"y":0.89},{"x":2240,"y":0.82},{"x":2270,"y":0.86},{"x":2300,"y":0.84},{"x":2330,"y":0.9},{"x":2360,"y":0.83},{"x":2390,"y":0.87},{"x":2420,"y":0.85},{"x":2450,"y":0.81},{"x":2480,"y":0.88},{"x":2510,"y":0.86},{"x":2540,"y":0.83},{"x":2570,"y":0.89},{"x":2600,"y":0.85},{"x":2628,"y":0.973},{"x":2640,"y":0.82},{"x":2673,"y":0.94},{"x":2700,"y":0.87},{"x":2730,"y":0.84},{"x":2760,"y":0.88},{"x":2790,"y":0.82},{"x":2820,"y":0.86},{"x":2850,"y":0.9},{"x":2880,"y":0.83},{"x":2910,"y":0.87},{"x":2940,"y":0.85},{"x":2958,"y":0.981},{"x":2980,"y":0.92},{"x":2050,"y":0.8},{"x":2200,"y":0.91},{"x":2350,"y":0.8},{"x":2500,"y":0.92},{"x":2650,"y":0.8},{"x":2800,"y":0.91},{"x":2950,"y":0.81},{"x":2100,"y":0.855},{"x":2250,"y":0.85},{"x":2400,"y":0.855},{"x":2550,"y":0.85},{"x":2700,"y":0.855},{"x":2850,"y":0.85},{"x":2160,"y":0.835},{"x":2440,"y":0.835},
  {"x":3000,"y":0.86},{"x":3030,"y":0.83},{"x":3060,"y":0.88},{"x":3090,"y":0.85},{"x":3100,"y":0.803},{"x":3120,"y":0.82},{"x":3150,"y":0.87},{"x":3180,"y":0.84},{"x":3210,"y":0.89},{"x":3240,"y":0.85},{"x":3270,"y":0.82},{"x":3300,"y":0.87},{"x":3330,"y":0.84},{"x":3360,"y":0.9},{"x":3390,"y":0.83},{"x":3420,"y":0.86},{"x":3442,"y":0.951},{"x":3460,"y":0.85},{"x":3490,"y":0.82},{"x":3520,"y":0.88},{"x":3550,"y":0.84},{"x":3580,"y":0.86},{"x":3610,"y":0.91},{"x":3640,"y":0.83},{"x":3670,"y":0.87},{"x":3700,"y":0.85},{"x":3730,"y":0.82},{"x":3754,"y":0.94},{"x":3780,"y":0.86},{"x":3810,"y":0.88},{"x":3840,"y":0.84},{"x":3870,"y":0.87},{"x":3900,"y":0.85},{"x":3930,"y":0.83},{"x":3960,"y":0.86},{"x":3050,"y":0.91},{"x":3250,"y":0.815},{"x":3450,"y":0.905},{"x":3650,"y":0.815},{"x":3850,"y":0.905},{"x":3150,"y":0.855},{"x":3550,"y":0.855},
  {"x":4020,"y":0.87},{"x":4061,"y":0.949},{"x":4090,"y":0.86},{"x":4130,"y":0.88},{"x":4160,"y":0.84},{"x":4200,"y":0.87},{"x":4240,"y":0.89},{"x":4280,"y":0.85},{"x":4320,"y":0.87},{"x":4360,"y":0.88},{"x":4400,"y":0.86},{"x":4440,"y":0.84},{"x":4480,"y":0.89},{"x":4520,"y":0.87},{"x":4560,"y":0.88},{"x":4600,"y":0.85},{"x":4640,"y":0.87},{"x":4680,"y":0.89},{"x":4720,"y":0.86},{"x":4760,"y":0.84},{"x":4800,"y":0.87},{"x":4860,"y":0.89},{"x":4900,"y":0.86},{"x":4950,"y":0.85},{"x":5000,"y":0.87},{"x":5100,"y":0.86},{"x":5150,"y":0.88},{"x":5250,"y":0.87},{"x":5300,"y":0.85},{"x":5330,"y":0.89},{"x":5380,"y":0.88},{"x":5450,"y":0.87},{"x":5970,"y":0.875},{"x":4210,"y":0.83},{"x":4500,"y":0.845},{"x":4100,"y":0.9},
  {"x":342,"y":0.862},{"x":467,"y":0.846},{"x":583,"y":0.871},{"x":702,"y":0.838},{"x":817,"y":0.857},{"x":938,"y":0.873},{"x":1046,"y":0.841},{"x":1138,"y":0.866},{"x":1227,"y":0.852},{"x":1318,"y":0.877},{"x":1407,"y":0.836},{"x":1496,"y":0.861},{"x":1587,"y":0.845},{"x":1676,"y":0.872},{"x":1767,"y":0.857},{"x":1856,"y":0.834},{"x":1947,"y":0.868},{"x":2037,"y":0.851},{"x":2126,"y":0.876},{"x":2217,"y":0.842},{"x":2306,"y":0.863},{"x":2397,"y":0.839},{"x":2486,"y":0.858},{"x":2577,"y":0.871},{"x":2666,"y":0.846},{"x":2757,"y":0.865},{"x":2846,"y":0.837},{"x":2937,"y":0.874},{"x":3027,"y":0.849},{"x":3116,"y":0.862},{"x":3207,"y":0.836},{"x":3296,"y":0.858},{"x":3387,"y":0.873},{"x":3476,"y":0.844},{"x":3567,"y":0.866},{"x":3656,"y":0.852},{"x":3747,"y":0.878},{"x":3836,"y":0.847},{"x":3927,"y":0.869},{"x":4047,"y":0.878},{"x":4187,"y":0.862},{"x":4327,"y":0.893},{"x":4467,"y":0.871},{"x":4607,"y":0.882},{"x":4747,"y":0.866},{"x":4887,"y":0.879},{"x":5047,"y":0.884},{"x":5217,"y":0.872},{"x":5417,"y":0.881},{"x":1213,"y":0.817},{"x":2533,"y":0.812},{"x":3613,"y":0.819},{"x":1783,"y":0.907},{"x":3183,"y":0.903},{"x":2233,"y":0.897}],
 "la": [{"x":-403,"y":1.2421},{"x":17330,"y":1.2354}],
 "lb": [{"x":-211,"y":0.734},{"x":5902,"y":0.843}],
 "lc": [{"x":-962,"y":0.891},{"x":19837,"y":0.928}],
 "ld": [{"x":-234,"y":0.838},{"x":6200,"y":0.893}]
},
"spacing": 45.5,
"vconcat": [
 {"hconcat": [
  {"title": {"text": "E. myoxinus", "fontStyle": "italic", "fontWeight": "normal", "fontSize": 18, "offset": -17, "dx": -44},
   "vconcat": [{
    "title": {"text": "MCF", "fontWeight": "normal", "offset": -0.5, "dx": -2},
    "vconcat": [{
     "width": 383, "height": 179,
     "title": {"text": "a)", "orient": "bottom", "anchor": "start", "frame": "group", "dx": -29, "offset": -36, "fontSize": 26, "font": "Open Sans", "fontWeight": "normal", "color": "#1a1a1a"},
     "layer": [
      {"data": {"name": "a"}, "mark": {"type": "circle", "size": 8, "opacity": 1, "color": "#0000ff"},
       "encoding": {"x": {"field": "x", "type": "quantitative", "title": "Spatial distance (m)", "scale": {"domain": [-403, 17330], "nice": false, "zero": false}, "axis": {"values": [0, 5000, 10000, 15000], "format": "d"}},
                    "y": {"field": "y", "type": "quantitative", "title": "Genetic Distance", "scale": {"domain": [1.11, 1.3554], "nice": false, "zero": false}, "axis": {"values": [1.15, 1.2, 1.25, 1.3, 1.35], "format": ".2f", "labelOverlap": false}}}},
      {"data": {"name": "la"}, "mark": {"type": "line", "color": "#c8c8c8", "strokeWidth": 1.2, "clip": true},
       "encoding": {"x": {"field": "x", "type": "quantitative", "title": "Spatial distance (m)"}, "y": {"field": "y", "type": "quantitative", "title": "Genetic Distance"}}},
      {"data": {"name": "la"}, "mark": {"type": "line", "color": "#333", "strokeWidth": 1.2, "strokeDash": [43, 43], "clip": true},
       "encoding": {"x": {"field": "x", "type": "quantitative", "title": "Spatial distance (m)"}, "y": {"field": "y", "type": "quantitative", "title": "Genetic Distance"}}}
     ]
    }]
   }]
  },
  {"title": {"text": "E. myoxinus", "fontStyle": "italic", "fontWeight": "normal", "fontSize": 18, "offset": -17, "dx": -50},
   "vconcat": [{
    "title": {"text": "ANP*", "fontWeight": "normal", "offset": -0.8, "dx": 12},
    "vconcat": [{
     "width": 377, "height": 177,
     "title": {"text": "b)", "orient": "bottom", "anchor": "start", "frame": "group", "dx": -28, "offset": -36, "fontSize": 26, "font": "Open Sans", "fontWeight": "normal", "color": "#1a1a1a"},
     "layer": [
      {"data": {"name": "b"}, "mark": {"type": "circle", "size": 6, "opacity": 1, "color": "#0000ff"},
       "encoding": {"x": {"field": "x", "type": "quantitative", "title": "Spatial distance (m)", "scale": {"domain": [-211, 5902], "nice": false, "zero": false}, "axis": {"values": [0, 1000, 2000, 3000, 4000, 5000], "format": "d"}},
                    "y": {"field": "y", "type": "quantitative", "title": "Genetic Distance", "scale": {"domain": [0.028, 0.951], "nice": false, "zero": false}, "axis": {"values": [0.2, 0.4, 0.6, 0.8], "format": ".1f", "labelOverlap": false}}}},
      {"data": {"name": "lb"}, "mark": {"type": "line", "color": "#c8c8c8", "strokeWidth": 1.2, "clip": true},
       "encoding": {"x": {"field": "x", "type": "quantitative", "title": "Spatial distance (m)"}, "y": {"field": "y", "type": "quantitative", "title": "Genetic Distance"}}},
      {"data": {"name": "lb"}, "mark": {"type": "line", "color": "#333", "strokeWidth": 1.2, "strokeDash": [12, 15], "clip": true},
       "encoding": {"x": {"field": "x", "type": "quantitative", "title": "Spatial distance (m)"}, "y": {"field": "y", "type": "quantitative", "title": "Genetic Distance"}}}
     ]
    }]
   }]
  }
 ], "spacing": 29},
 {"hconcat": [
  {"title": {"text": "R. rattus", "fontStyle": "italic", "fontWeight": "normal", "fontSize": 18, "offset": -17, "dx": -50},
   "vconcat": [{
    "title": {"text": "MCF*", "fontWeight": "normal", "offset": 5, "dx": 10},
    "vconcat": [{
     "width": 383, "height": 175,
     "title": {"text": "c)", "orient": "bottom", "anchor": "start", "frame": "group", "dx": -19, "offset": -36, "fontSize": 26, "font": "Open Sans", "fontWeight": "normal", "color": "#1a1a1a"},
     "layer": [
      {"data": {"name": "c"}, "mark": {"type": "circle", "size": 6, "opacity": 1, "color": "#ff0000"},
       "encoding": {"x": {"field": "x", "type": "quantitative", "title": "Spatial distance (m)", "scale": {"domain": [-962, 19837], "nice": false, "zero": false}, "axis": {"values": [0, 5000, 10000, 15000], "format": "d"}},
                    "y": {"field": "y", "type": "quantitative", "title": "Genetic Distance", "scale": {"domain": [0.47, 1.002], "nice": false, "zero": false}, "axis": {"values": [0.5, 0.6, 0.7, 0.8, 0.9, 1.0], "format": ".1f", "labelOverlap": false}}}},
      {"data": {"name": "lc"}, "mark": {"type": "line", "color": "#c8c8c8", "strokeWidth": 1.2, "clip": true},
       "encoding": {"x": {"field": "x", "type": "quantitative", "title": "Spatial distance (m)"}, "y": {"field": "y", "type": "quantitative", "title": "Genetic Distance"}}},
      {"data": {"name": "lc"}, "mark": {"type": "line", "color": "#333", "strokeWidth": 1.2, "strokeDash": [15, 17], "clip": true},
       "encoding": {"x": {"field": "x", "type": "quantitative", "title": "Spatial distance (m)"}, "y": {"field": "y", "type": "quantitative", "title": "Genetic Distance"}}}
     ]
    }]
   }]
  },
  {"title": {"text": "R. rattus", "fontStyle": "italic", "fontWeight": "normal", "fontSize": 18, "offset": -17, "dx": -48},
   "vconcat": [{
    "title": {"text": "ANP*", "fontWeight": "normal", "offset": 1.5, "dx": 12},
    "vconcat": [{
     "width": 377, "height": 175,
     "title": {"text": "d)", "orient": "bottom", "anchor": "start", "frame": "group", "dx": -25, "offset": -36, "fontSize": 26, "font": "Open Sans", "fontWeight": "normal", "color": "#1a1a1a"},
     "layer": [
      {"data": {"name": "d"}, "mark": {"type": "circle", "size": 6, "opacity": 1, "color": "#ff0000"},
       "encoding": {"x": {"field": "x", "type": "quantitative", "title": "Spatial distance (m)", "scale": {"domain": [-234, 6200], "nice": false, "zero": false}, "axis": {"values": [0, 1000, 2000, 3000, 4000, 5000, 6000], "format": "d"}},
                    "y": {"field": "y", "type": "quantitative", "title": "Genetic Distance", "scale": {"domain": [0.423, 0.999], "nice": false, "zero": false}, "axis": {"values": [0.5, 0.6, 0.7, 0.8, 0.9], "format": ".1f", "labelOverlap": false}}}},
      {"data": {"name": "ld"}, "mark": {"type": "line", "color": "#c8c8c8", "strokeWidth": 1.2, "clip": true},
       "encoding": {"x": {"field": "x", "type": "quantitative", "title": "Spatial distance (m)"}, "y": {"field": "y", "type": "quantitative", "title": "Genetic Distance"}}},
      {"data": {"name": "ld"}, "mark": {"type": "line", "color": "#333", "strokeWidth": 1.2, "strokeDash": [13, 17], "clip": true},
       "encoding": {"x": {"field": "x", "type": "quantitative", "title": "Spatial distance (m)"}, "y": {"field": "y", "type": "quantitative", "title": "Genetic Distance"}}}
     ]
    }]
   }]
  }
 ], "spacing": 18.5}
]
}
